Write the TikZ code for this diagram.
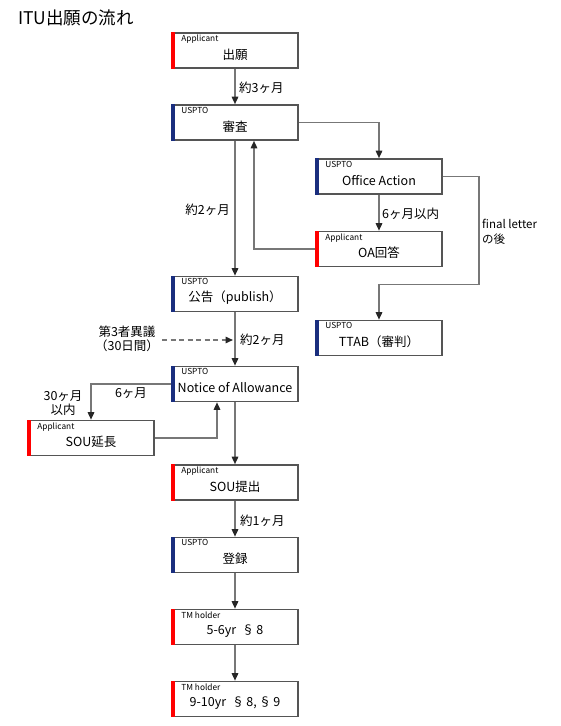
\documentclass[tikz,border=0pt]{standalone}
\usepackage{fontspec}
\setmainfont{Noto Sans CJK JP}
\usetikzlibrary{arrows.meta,calc}
\definecolor{linegray}{HTML}{777777}
\definecolor{boxgray}{HTML}{555555}
\definecolor{appred}{HTML}{FF0000}
\definecolor{usnavy}{HTML}{1A2E7E}
\tikzset{
 box/.style={draw=boxgray, line width=1.6pt, fill=white, minimum width=126pt, minimum height=35pt, inner sep=0pt},
 arr/.style={draw=linegray, line width=1.5pt, -{Triangle[width=6.5pt,length=7.5pt,color=black!85]}},
 darr/.style={arr, dash pattern=on 5pt off 3.5pt},
 hdr/.style={font=\fontsize{8.3}{9}\selectfont, anchor=north west, inner sep=0pt},
 maintext/.style={font=\fontsize{12.5}{14}\selectfont, inner sep=0pt},
 lbl/.style={font=\fontsize{12.5}{14}\selectfont, inner sep=0pt, align=center},
}
\newcommand\mybox[6]{%
 \node[box] (#1) at (#2,#3) {};
 \fill[#4] (#1.north west) rectangle ([xshift=4pt]#1.south west);
 \node[hdr] (#1-h) at ([shift={(10pt,-2.5pt)}]#1.north west) {#5};
 \node[maintext] (#1-t) at ([yshift=-4pt]#1.center) {#6};
}
\begin{document}
\begin{tikzpicture}[x=1pt,y=-1pt]
\useasboundingbox (0,0) rectangle (560,726);
\node[font=\fontsize{17.5}{19}\selectfont, anchor=west, inner sep=0pt] (title) at (18,18) {ITU出願の流れ};
\mybox{chugan}{235}{50.5}{appred}{Applicant}{出願}
\mybox{shinsa}{235}{122.5}{usnavy}{USPTO}{審査}
\mybox{oa}{379}{176.5}{usnavy}{USPTO}{Office Action}
\mybox{oakaito}{379}{249}{appred}{Applicant}{OA回答}
\mybox{koukoku}{235}{294}{usnavy}{USPTO}{公告（publish）}
\mybox{ttab}{379}{338}{usnavy}{USPTO}{TTAB（審判）}
\mybox{noa}{235}{384}{usnavy}{USPTO}{Notice of Allowance}
\mybox{souext}{91}{438}{appred}{Applicant}{SOU延長}
\mybox{soufile}{235}{482.5}{appred}{Applicant}{SOU提出}
\mybox{touroku}{235}{555}{usnavy}{USPTO}{登録}
\mybox{tmone}{235}{627}{appred}{TM holder}{5-6yr\ \ §\,8}
\mybox{tmtwo}{235}{699}{appred}{TM holder}{9-10yr\ \ §\,8,\,§\,9}
% connectors
\draw[arr] (chugan) -- (shinsa);
\draw[arr] (shinsa.east) -| (oa.north);
\draw[arr] (oa) -- (oakaito);
\draw[arr] (oakaito.west) -| ([xshift=19pt]shinsa.south);
\draw[arr] (shinsa) -- (koukoku);
\draw[arr] (oa.east) -| ++(36,108) -| (ttab.north);
\draw[arr] (koukoku) -- (noa);
\draw[arr] (noa.west) -| (souext.north);
\draw[arr] (souext.east) -| ([xshift=-18pt]noa.south);
\draw[arr] (noa) -- (soufile);
\draw[arr] (soufile) -- (touroku);
\draw[arr] (touroku) -- (tmone);
\draw[arr] (tmone) -- (tmtwo);
% labels
\node[lbl, anchor=west] (l1) at (239,88) {約3ヶ月};
\node[lbl, anchor=east] (l2) at (230,210) {約2ヶ月};
\node[lbl, anchor=west] (l3) at (382,214) {6ヶ月以内};
\node[lbl, anchor=west, align=left, font=\fontsize{11.5}{15}\selectfont] (l4) at (482,232) {final letter\\の後};
\node[lbl] (opp) at (127,339) {第3者異議\\（30日間）};
\coordinate (oppend) at (233,340);
\draw[darr] ([xshift=3pt]opp.east |- oppend) -- (oppend);
\node[lbl, anchor=west] (l5) at (240,340) {約2ヶ月};
\node[lbl] (l6) at (131,393) {6ヶ月};
\node[lbl] (l7) at (63,403) {30ヶ月\\以内};
\node[lbl, anchor=west] (l8) at (240,521) {約1ヶ月};
\end{tikzpicture}
\end{document}
